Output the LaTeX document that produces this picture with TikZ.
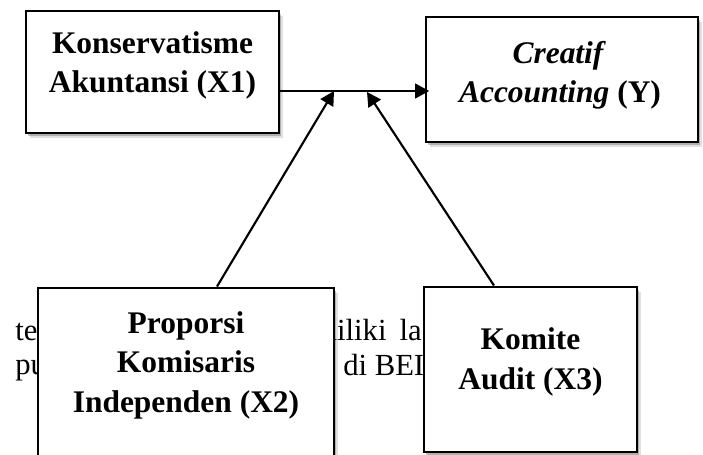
\documentclass[tikz,border=0pt]{standalone}
\usepackage{fontspec}
\setmainfont{Liberation Serif}
\usetikzlibrary{arrows.meta,shadows}
\begin{document}
\begin{tikzpicture}[x=0.75pt,y=-0.75pt,
  boxnode/.style={draw=black, line width=2.2pt, fill=white, inner sep=0pt,
     drop shadow={shadow xshift=3pt,shadow yshift=-3.5pt,opacity=0.12,fill=black},
     drop shadow={shadow xshift=1.8pt,shadow yshift=-2.2pt,opacity=0.22,fill=black}},
  title/.style={font=\fontsize{23.6}{29.6}\selectfont\bfseries, anchor=base, inner sep=0pt},
  bgtext/.style={font=\fontsize{23}{28}\selectfont, anchor=base west, inner sep=0pt},
  link/.style={line width=1.6pt, -{Triangle[length=10.5pt,width=11pt]}}]
\clip (0,0) rectangle (703,454);
% background text partly covered by the boxes
\node[bgtext] (b1) at (15,340) {te};
\node[bgtext] (b2) at (15,374) {pu};
\node[bgtext] (b3) at (313,340) {miliki\hspace{4pt} la};
\node[bgtext] (b4) at (343,375) {di BEI};
% boxes
\node[boxnode, minimum width=189.75pt, minimum height=91.5pt] (x1) at (152.5,72) {};
\node[boxnode, minimum width=204pt, minimum height=93.75pt] (y) at (562,79.5) {};
\node[boxnode, minimum width=222pt, minimum height=136.5pt] (x2) at (186,379) {};
\node[boxnode, minimum width=159.75pt, minimum height=123.75pt] (x3) at (530.5,369.5) {};
% titles
\node[title] (x1a) at (152.5,53) {Konservatisme};
\node[title] (x1b) at (152.5,92) {Akuntansi (X1)};
\node[title] (ya) at (558,63) {\itshape Creatif};
\node[title] (yb) at (560,102) {\itshape Accounting\/ \upshape(Y)};
\node[title] (x2a) at (186,333) {Proporsi};
\node[title] (x2b) at (186,372) {Komisaris};
\node[title] (x2c) at (186,412) {Independen (X2)};
\node[title] (x3a) at (530.5,349) {Komite};
\node[title] (x3b) at (530.5,389) {Audit (X3)};
% connectors
\coordinate (j2) at (334,91);
\coordinate (j3) at (367,92);
\draw[link, shorten >=-3.5pt] (x1.east |- 0,91) -- (y.west |- 0,91);
\draw[link] (x2.north -| 217,0) -- (j2);
\draw[link] (x3.north -| 494,0) -- (j3);
\end{tikzpicture}
\end{document}
